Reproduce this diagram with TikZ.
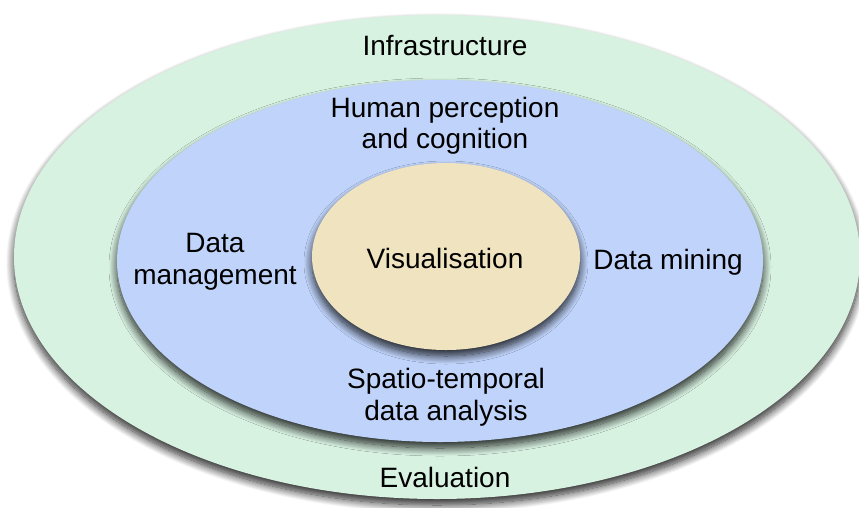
\documentclass[tikz,border=0pt]{standalone}
\usepackage{fontspec}
\setmainfont{Liberation Sans}
\usetikzlibrary{shapes.geometric,shadows.blur}
\definecolor{ringgreen}{HTML}{D8F2E2}
\definecolor{ringblue}{HTML}{C0D4FB}
\definecolor{ringtan}{HTML}{F0E3C0}
\tikzset{
  ring/.style={ellipse, inner sep=0pt, draw=none,
    blur shadow={shadow xshift=0pt, shadow yshift=-6pt, shadow blur radius=8pt, shadow opacity=85, shadow blur steps=14}},
  lbl/.style={align=center, font=\fontsize{28}{31.5}\selectfont, text=black, inner sep=0pt}
}
\begin{document}
\begin{tikzpicture}[x=1pt,y=-1pt]
\useasboundingbox (0,0) rectangle (859,507);
\node[ring, fill=ringgreen, minimum width=846pt, minimum height=484pt] (outer) at (437,257) {};
\node[ring, fill=ringblue, minimum width=646pt, minimum height=362pt] (mid) at (440,261) {};
\node[ring, fill=ringtan, minimum width=268pt, minimum height=187pt] (inner) at (446,256.5) {};
\node[lbl] (infra) at (445,45.5) {Infrastructure};
\node[lbl] (human) at (445,126) {Human perception\\and cognition};
\node[lbl] (dm) at (215,262) {Data\\management};
\node[lbl] (vis) at (445,258) {Visualisation};
\node[lbl] (mining) at (668,262.5) {Data mining};
\node[lbl] (spatio) at (446,397.5) {Spatio-temporal\\data analysis};
\node[lbl] (eval) at (445,477) {Evaluation};
\end{tikzpicture}
\end{document}
